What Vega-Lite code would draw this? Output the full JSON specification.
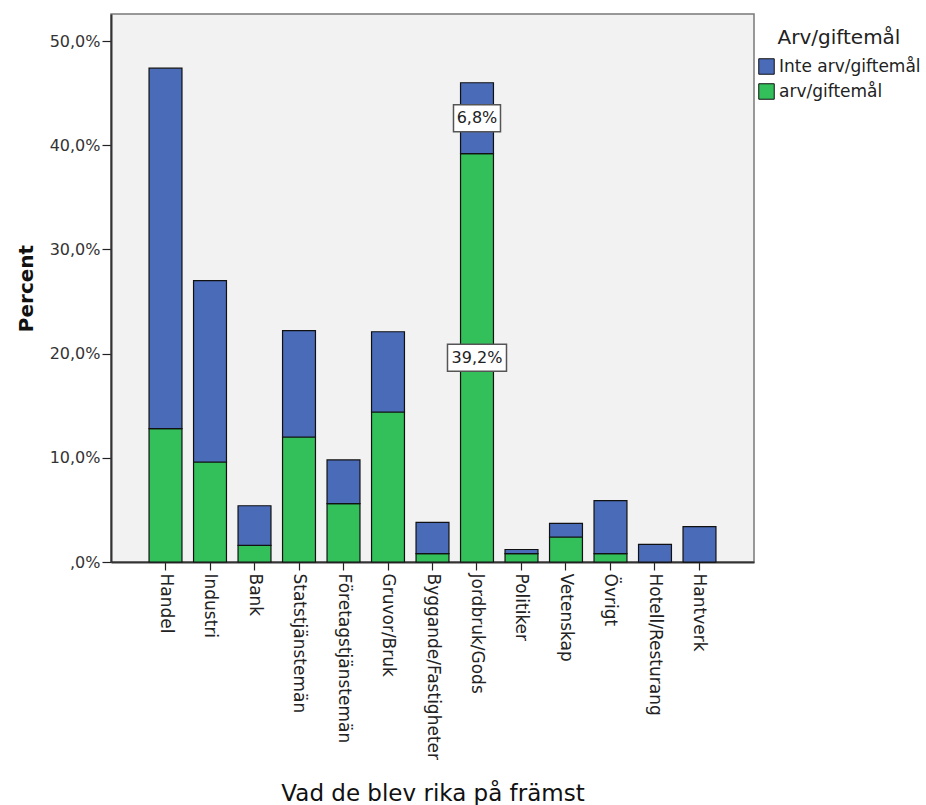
{
  "$schema": "https://vega.github.io/schema/vega-lite/v6.json",
  "width": 643,
  "height": 548,
  "autosize": {"type": "none"},
  "padding": {"left": 111, "top": 14, "right": 172, "bottom": 243},
  "background": "white",
  "config": {
    "locale": {"number": {"decimal": ",", "thousands": " ", "grouping": [3], "currency": ["", " kr"]}},
    "view": {"fill": "#f2f2f2", "stroke": "#7a7a7a", "strokeWidth": 1.5},
    "font": "DejaVu Sans"
  },
  "data": {
    "values": [
      {"cat": "Handel", "grp": "arv/giftemål", "pct": 0.128},
      {"cat": "Handel", "grp": "Inte arv/giftemål", "pct": 0.346},
      {"cat": "Industri", "grp": "arv/giftemål", "pct": 0.096},
      {"cat": "Industri", "grp": "Inte arv/giftemål", "pct": 0.174},
      {"cat": "Bank", "grp": "arv/giftemål", "pct": 0.016},
      {"cat": "Bank", "grp": "Inte arv/giftemål", "pct": 0.038},
      {"cat": "Statstjänstemän", "grp": "arv/giftemål", "pct": 0.12},
      {"cat": "Statstjänstemän", "grp": "Inte arv/giftemål", "pct": 0.102},
      {"cat": "Företagstjänstemän", "grp": "arv/giftemål", "pct": 0.056},
      {"cat": "Företagstjänstemän", "grp": "Inte arv/giftemål", "pct": 0.042},
      {"cat": "Gruvor/Bruk", "grp": "arv/giftemål", "pct": 0.144},
      {"cat": "Gruvor/Bruk", "grp": "Inte arv/giftemål", "pct": 0.077},
      {"cat": "Byggande/Fastigheter", "grp": "arv/giftemål", "pct": 0.008},
      {"cat": "Byggande/Fastigheter", "grp": "Inte arv/giftemål", "pct": 0.03},
      {"cat": "Jordbruk/Gods", "grp": "arv/giftemål", "pct": 0.392},
      {"cat": "Jordbruk/Gods", "grp": "Inte arv/giftemål", "pct": 0.068},
      {"cat": "Politiker", "grp": "arv/giftemål", "pct": 0.008},
      {"cat": "Politiker", "grp": "Inte arv/giftemål", "pct": 0.004},
      {"cat": "Vetenskap", "grp": "arv/giftemål", "pct": 0.024},
      {"cat": "Vetenskap", "grp": "Inte arv/giftemål", "pct": 0.013},
      {"cat": "Övrigt", "grp": "arv/giftemål", "pct": 0.008},
      {"cat": "Övrigt", "grp": "Inte arv/giftemål", "pct": 0.051},
      {"cat": "Hotell/Resturang", "grp": "arv/giftemål", "pct": 0.0},
      {"cat": "Hotell/Resturang", "grp": "Inte arv/giftemål", "pct": 0.017},
      {"cat": "Hantverk", "grp": "arv/giftemål", "pct": 0.0},
      {"cat": "Hantverk", "grp": "Inte arv/giftemål", "pct": 0.034}
    ]
  },
  "transform": [
    {"stack": "pct", "groupby": ["cat"], "sort": [{"field": "grp", "order": "descending"}], "as": ["y0", "y1"]},
    {"calculate": "(datum.y0 + datum.y1) / 2", "as": "ymid"}
  ],
  "encoding": {
    "x": {
      "field": "cat",
      "type": "nominal",
      "sort": null,
      "scale": {"paddingInner": 0.26, "paddingOuter": 0.855},
      "axis": {
        "labelAngle": 90,
        "labelFontSize": 17,
        "labelColor": "#222",
        "labelPadding": 3,
        "labelLimit": 0,
        "tickSize": 8,
        "tickColor": "#222",
        "tickWidth": 1.2,
        "domainColor": "#333",
        "domainWidth": 2,
        "title": "Vad de blev rika på främst",
        "titleFontSize": 23,
        "titleFontWeight": "normal",
        "titleColor": "#111",
        "titleX": 321.5,
        "titleY": 238,
        "titleAlign": "center",
        "titleBaseline": "alphabetic"
      }
    }
  },
  "layer": [
    {
      "mark": {"type": "bar", "stroke": "#111", "strokeWidth": 1.2},
      "encoding": {
        "y": {
          "field": "y0",
          "type": "quantitative",
          "scale": {"domain": [0, 0.526], "nice": false},
          "axis": {
            "values": [0, 0.1, 0.2, 0.3, 0.4, 0.5],
            "format": ".1%",
            "labelExpr": "datum.value == 0 ? ',0%' : datum.label",
            "labelFontSize": 16,
            "labelColor": "#333",
            "labelPadding": 2,
            "tickSize": 9,
            "tickColor": "#222",
            "tickWidth": 1.2,
            "domainColor": "#333",
            "domainWidth": 2,
            "grid": false,
            "title": "Percent",
            "titleFontSize": 20,
            "titleFontWeight": "bold",
            "titleColor": "#111",
            "titleX": -79,
            "titleY": 274,
            "titleAngle": -90,
            "titleAlign": "center",
            "titleBaseline": "alphabetic"
          }
        },
        "y2": {"field": "y1"},
        "color": {
          "field": "grp",
          "type": "nominal",
          "scale": {"domain": ["Inte arv/giftemål", "arv/giftemål"], "range": ["#4a6bb8", "#33bf5a"]},
          "legend": {
            "orient": "none",
            "legendX": 647,
            "legendY": 14,
            "padding": 0,
            "title": "Arv/giftemål",
            "titleFontSize": 20,
            "titleFontWeight": "normal",
            "titleColor": "#222",
            "titleAnchor": "middle",
            "titlePadding": 10,
            "labelFontSize": 17,
            "labelColor": "#222",
            "labelOffset": 4,
            "rowPadding": 4,
            "symbolType": "square",
            "symbolSize": 240,
            "symbolStrokeColor": "#111",
            "symbolStrokeWidth": 1
          }
        }
      }
    },
    {
      "transform": [{"filter": "datum.cat == 'Jordbruk/Gods' && datum.grp == 'Inte arv/giftemål'"}],
      "mark": {"type": "point", "shape": "M-1,-0.574L1,-0.574L1,0.574L-1,0.574Z", "size": 2209, "filled": true, "fill": "white", "stroke": "#555", "strokeWidth": 1.5, "opacity": 1},
      "encoding": {"y": {"field": "ymid", "type": "quantitative"}}
    },
    {
      "transform": [{"filter": "datum.cat == 'Jordbruk/Gods' && datum.grp == 'arv/giftemål'"}],
      "mark": {"type": "point", "shape": "M-1,-0.458L1,-0.458L1,0.458L-1,0.458Z", "size": 3481, "filled": true, "fill": "white", "stroke": "#555", "strokeWidth": 1.5, "opacity": 1},
      "encoding": {"y": {"field": "ymid", "type": "quantitative"}}
    },
    {
      "transform": [{"filter": "datum.cat == 'Jordbruk/Gods'"}],
      "mark": {"type": "text", "fontSize": 16, "color": "#222", "align": "center", "baseline": "middle"},
      "encoding": {
        "y": {"field": "ymid", "type": "quantitative"},
        "text": {"field": "pct", "type": "quantitative", "format": ".1%"}
      }
    }
  ]
}
